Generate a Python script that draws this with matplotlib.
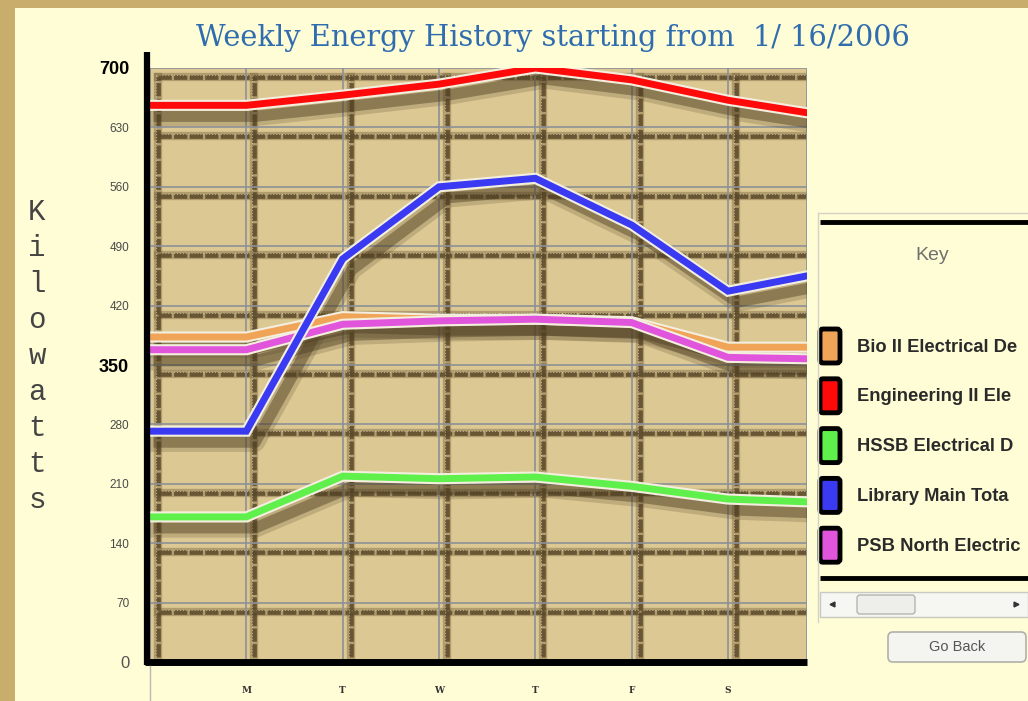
import numpy as np
import matplotlib
matplotlib.use("Agg")
import matplotlib.pyplot as plt
import matplotlib.patheffects as pe
from matplotlib.transforms import offset_copy
from matplotlib.patches import Rectangle, FancyBboxPatch

# data (kW), one value per gridline position
day_labels = ["M", "T", "W", "T", "F", "S"]
bio2 = [383, 383, 407, 404, 404, 401, 371, 371]
eng2 = [656, 656, 668, 681, 700, 686, 662, 644]
hssb = [171, 171, 219, 216, 218, 207, 192, 188]
library = [272, 272, 475, 560, 570, 515, 437, 459]
psb_north = [368, 368, 398, 402, 404, 400, 359, 357]

# key labels as far as the screenshot shows them (panel is cut at the right)
series_names = ["Bio II Electrical De", "Engineering II Ele",
                "HSSB Electrical D", "Library Main Tota",
                "PSB North Electric"]
series_colors = ["#EFA458", "#FF0A0A", "#5FF04C", "#3A3AF2", "#E055DC"]
series_values = [bio2, eng2, hssb, library, psb_north]
draw_order = [2, 0, 4, 1, 3]

yticks = list(range(0, 701, 70))

W, H = 1028, 701
fig = plt.figure(figsize=(W / 100, H / 100), dpi=100)
fig.patch.set_facecolor("#C9AD6C")

# background page (pixel coordinates)
bg = fig.add_axes([0, 0, 1, 1], zorder=0)
bg.set_xlim(0, W)
bg.set_ylim(H, 0)
bg.axis("off")
bg.add_patch(Rectangle((15, 8), W - 15, H - 8, facecolor="#FFFDD5", edgecolor="none"))

# main chart
x0, x1, y0, y1 = 150, 807, 662, 68
ax = fig.add_axes([x0 / W, 1 - y0 / H, (x1 - x0) / W, (y0 - y1) / H], zorder=1)
ax.set_facecolor("#DCC893")
ax.set_xlim(0, 6.82)
ax.set_ylim(0, 700)
for s in ax.spines.values():
    s.set_visible(False)

xs = np.arange(len(bio2))
grid_x = list(range(0, 7)) + [6.82]

# shadow grid: blurred dark band with light perforation, offset right / down
sh_grid = offset_copy(ax.transData, fig=fig, x=8, y=-9, units="dots")
hl_grid = offset_copy(ax.transData, fig=fig, x=6, y=-7, units="dots")
for v in yticks:
    ax.plot([0, 7], [v, v], color="#6E5B36", lw=6, alpha=0.4,
            transform=sh_grid, zorder=1)
    ax.plot([0, 7], [v, v], color="#5A492A", lw=3.4, alpha=0.85,
            ls=(0, (2.8, 0.5)), transform=sh_grid, zorder=1)
    ax.plot([0, 7], [v, v], color="#F2EACB", lw=0.7, alpha=0.55,
            ls=(0, (1.2, 1.8)), transform=hl_grid, zorder=1)
for gx in grid_x:
    ax.plot([gx, gx], [-20, 700], color="#6E5B36", lw=6, alpha=0.4,
            transform=sh_grid, zorder=1)
    ax.plot([gx, gx], [-20, 700], color="#5A492A", lw=3.4, alpha=0.85,
            ls=(0, (2.8, 0.5)), transform=sh_grid, zorder=1)
    ax.plot([gx, gx], [-20, 700], color="#F2EACB", lw=0.7, alpha=0.55,
            ls=(0, (1.2, 1.8)), transform=hl_grid, zorder=1)

# plain grid
for v in yticks:
    ax.axhline(v, color="#8C9096", lw=1.2, zorder=2)
for gx in grid_x:
    ax.axvline(gx, color="#8C9096", lw=1.2, zorder=2)

# drop shadows of the series
sh_line = offset_copy(ax.transData, fig=fig, x=9, y=-11, units="dots")
for vals in series_values:
    ax.plot(xs, vals, color="#4E3F22", lw=14, alpha=0.2, transform=sh_line,
            solid_joinstyle="round", zorder=3)
    ax.plot(xs, vals, color="#4E3F22", lw=8, alpha=0.45, transform=sh_line,
            solid_joinstyle="round", zorder=3)

# series
for i in draw_order:
    ax.plot(xs, series_values[i], color=series_colors[i], lw=5, zorder=4,
            solid_joinstyle="miter",
            path_effects=[pe.Stroke(linewidth=8, foreground="#F3EEDD"), pe.Normal()])

ax.set_yticks(yticks)
ax.set_yticklabels([str(v) for v in yticks])
ax.tick_params(axis="y", length=0, pad=15)
for lab, v in zip(ax.get_yticklabels(), yticks):
    lab.set_family("Liberation Sans")
    if v in (350, 700):
        lab.set_fontsize(13)
        lab.set_fontweight("bold")
        lab.set_color("black")
    elif v == 0:
        lab.set_fontsize(12)
        lab.set_color("#555555")
    else:
        lab.set_fontsize(8.5)
        lab.set_color("#4A4A4A")

ax.set_xticks(range(1, 7))
ax.set_xticklabels(day_labels, family="DejaVu Serif", fontsize=6.5,
                   fontweight="bold", color="#333333")
ax.tick_params(axis="x", length=0, pad=17)

# foreground decorations (pixel coordinates)
fg = fig.add_axes([0, 0, 1, 1], zorder=2)
fg.set_xlim(0, W)
fg.set_ylim(H, 0)
fg.axis("off")
fg.patch.set_alpha(0)

fg.plot([147, 147], [52, 665], color="black", lw=4.5, solid_capstyle="butt")
fg.plot([145, 807], [662, 662], color="black", lw=5, solid_capstyle="butt")
fg.plot([150, 150], [666, 701], color="#B8B8B0", lw=1)

fg.text(553, 38, "Weekly Energy History starting from  1/ 16/2006",
        family="DejaVu Serif", fontsize=20.8, color="#2F6DB0",
        ha="center", va="center")

for i, ch in enumerate("Kilowatts"):
    fg.text(37, 220 + i * 36, ch, family="Liberation Mono", fontsize=21,
            color="#444444", ha="center", va="baseline")

# key panel
fg.plot([818, 818], [213, 622], color="#D2D2C8", lw=1)
fg.plot([818, W], [213, 213], color="#D2D2C8", lw=1)
fg.plot([820, W], [222, 222], color="black", lw=3.5, solid_capstyle="butt")
fg.plot([820, W], [578, 578], color="black", lw=3.5, solid_capstyle="butt")
fg.text(932, 256, "Key", family="Liberation Sans", fontsize=14,
        color="#707070", ha="center", va="center")

for k, (name, col) in enumerate(zip(series_names, series_colors)):
    cy = 346 + k * 49.8
    fg.add_patch(FancyBboxPatch((820, cy - 17), 20, 34,
                                boxstyle="round,pad=0,rounding_size=3",
                                facecolor=col, edgecolor="black", lw=3.5))
    fg.text(857, cy + 1, name, family="Liberation Sans", fontsize=13.2,
            fontweight="bold", color="#2A2A2A", ha="left", va="center")

# scroll bar
fg.add_patch(Rectangle((820, 592), W - 820, 25, facecolor="#F6F6F2",
                       edgecolor="#C9C9C2", lw=1))
fg.add_patch(FancyBboxPatch((857, 595), 58, 19,
                            boxstyle="round,pad=0,rounding_size=3",
                            facecolor="#EEEEEA", edgecolor="#B5B5B0", lw=1))
fg.plot([832], [604], marker="<", color="#333333", ms=3.5)
fg.plot([1016], [604], marker=">", color="#333333", ms=3.5)

# button
fg.add_patch(FancyBboxPatch((888, 632), 138, 30,
                            boxstyle="round,pad=0,rounding_size=5",
                            facecolor="#F4F4F1", edgecolor="#B0B0AA", lw=1.2))
fg.text(957, 647, "Go Back", family="Liberation Sans", fontsize=10.5,
        color="#555555", ha="center", va="center")

fig.savefig("out.png", dpi=100, facecolor=fig.get_facecolor())
